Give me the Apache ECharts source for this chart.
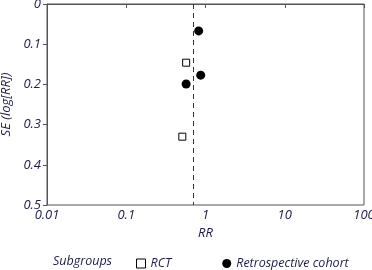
<!DOCTYPE html>
<html>
<head>
<meta charset="utf-8">
<script src="https://cdn.jsdelivr.net/npm/echarts@6/dist/echarts.min.js"></script>
<style>
  html, body { margin: 0; padding: 0; background: #fff; }
  #chart { width: 372px; height: 270px; }
</style>
</head>
<body>
<div id="chart"></div>
<script>
// RR vs SE(log RR)
const rctRR = [0.57, 0.51];
const rctSE = [0.146, 0.33];
const cohortRR = [0.82, 0.87, 0.57];
const cohortSE = [0.067, 0.177, 0.199];
const pooledRR = 0.71;
const xTicks = [0.01, 0.1, 1, 10, 100];

const textColor = '#1c1c48';
const font = { fontFamily: 'Open Sans', fontStyle: 'italic', color: textColor, fontSize: 13 };

const chart = echarts.init(document.getElementById('chart'));

const option = {
  animation: false,
  grid: {
    left: 47, right: 8, top: 4, bottom: 65,
    outerBoundsMode: 'none',
    show: true, borderColor: '#555', borderWidth: 1
  },
  xAxis: {
    type: 'log',
    logBase: 10,
    min: xTicks[0],
    max: xTicks[xTicks.length - 1],
    name: 'RR',
    nameLocation: 'middle',
    nameGap: 18,
    nameTextStyle: Object.assign({}, font),
    axisLine: { lineStyle: { color: '#555' } },
    axisTick: { show: true, length: 4, lineStyle: { color: '#555' } },
    splitLine: { show: false },
    minorTick: { show: false },
    axisLabel: Object.assign({}, font, {
      margin: 4,
      formatter: v => String(xTicks.find(t => Math.abs(t - v) / t < 1e-6) ?? v)
    })
  },
  yAxis: {
    type: 'value',
    inverse: true,
    min: 0,
    max: 0.5,
    interval: 0.1,
    name: 'SE (log[RR])',
    nameLocation: 'middle',
    nameGap: 29,
    nameTextStyle: Object.assign({}, font),
    axisLine: { show: true, lineStyle: { color: '#555' } },
    axisTick: { show: true, length: 4, lineStyle: { color: '#555' } },
    splitLine: { show: false },
    axisLabel: Object.assign({}, font, {
      margin: 6,
      formatter: v => (Math.round(v * 10) / 10).toString()
    })
  },
  legend: {
    left: 136,
    top: 257,
    padding: 0,
    itemGap: 51,
    itemWidth: 9,
    itemHeight: 9,
    textStyle: Object.assign({}, font, { fontSize: 12.5 }),
    data: [
      { name: 'RCT', icon: 'rect', itemStyle: { color: '#fff', borderColor: '#000', borderWidth: 1 } },
      { name: 'Retrospective cohort', icon: 'circle' }
    ]
  },
  graphic: [{
    type: 'text',
    left: 53,
    top: 255,
    style: { text: 'Subgroups', font: 'italic 12.5px "Open Sans"', fill: textColor }
  }],
  series: [
    {
      name: 'RCT',
      type: 'scatter',
      symbol: 'rect',
      symbolSize: 7,
      itemStyle: { color: '#fff', borderColor: '#000', borderWidth: 1, opacity: 1 },
      data: rctRR.map((x, i) => [x, rctSE[i]]),
      markLine: {
        silent: true,
        symbol: 'none',
        label: { show: false },
        lineStyle: { color: '#333', type: [5, 4], width: 1 },
        data: [{ xAxis: pooledRR }]
      }
    },
    {
      name: 'Retrospective cohort',
      type: 'scatter',
      symbol: 'circle',
      symbolSize: 9,
      itemStyle: { color: '#000', opacity: 1 },
      data: cohortRR.map((x, i) => [x, cohortSE[i]])
    }
  ]
};

chart.setOption(option);
</script>
</body>
</html>
